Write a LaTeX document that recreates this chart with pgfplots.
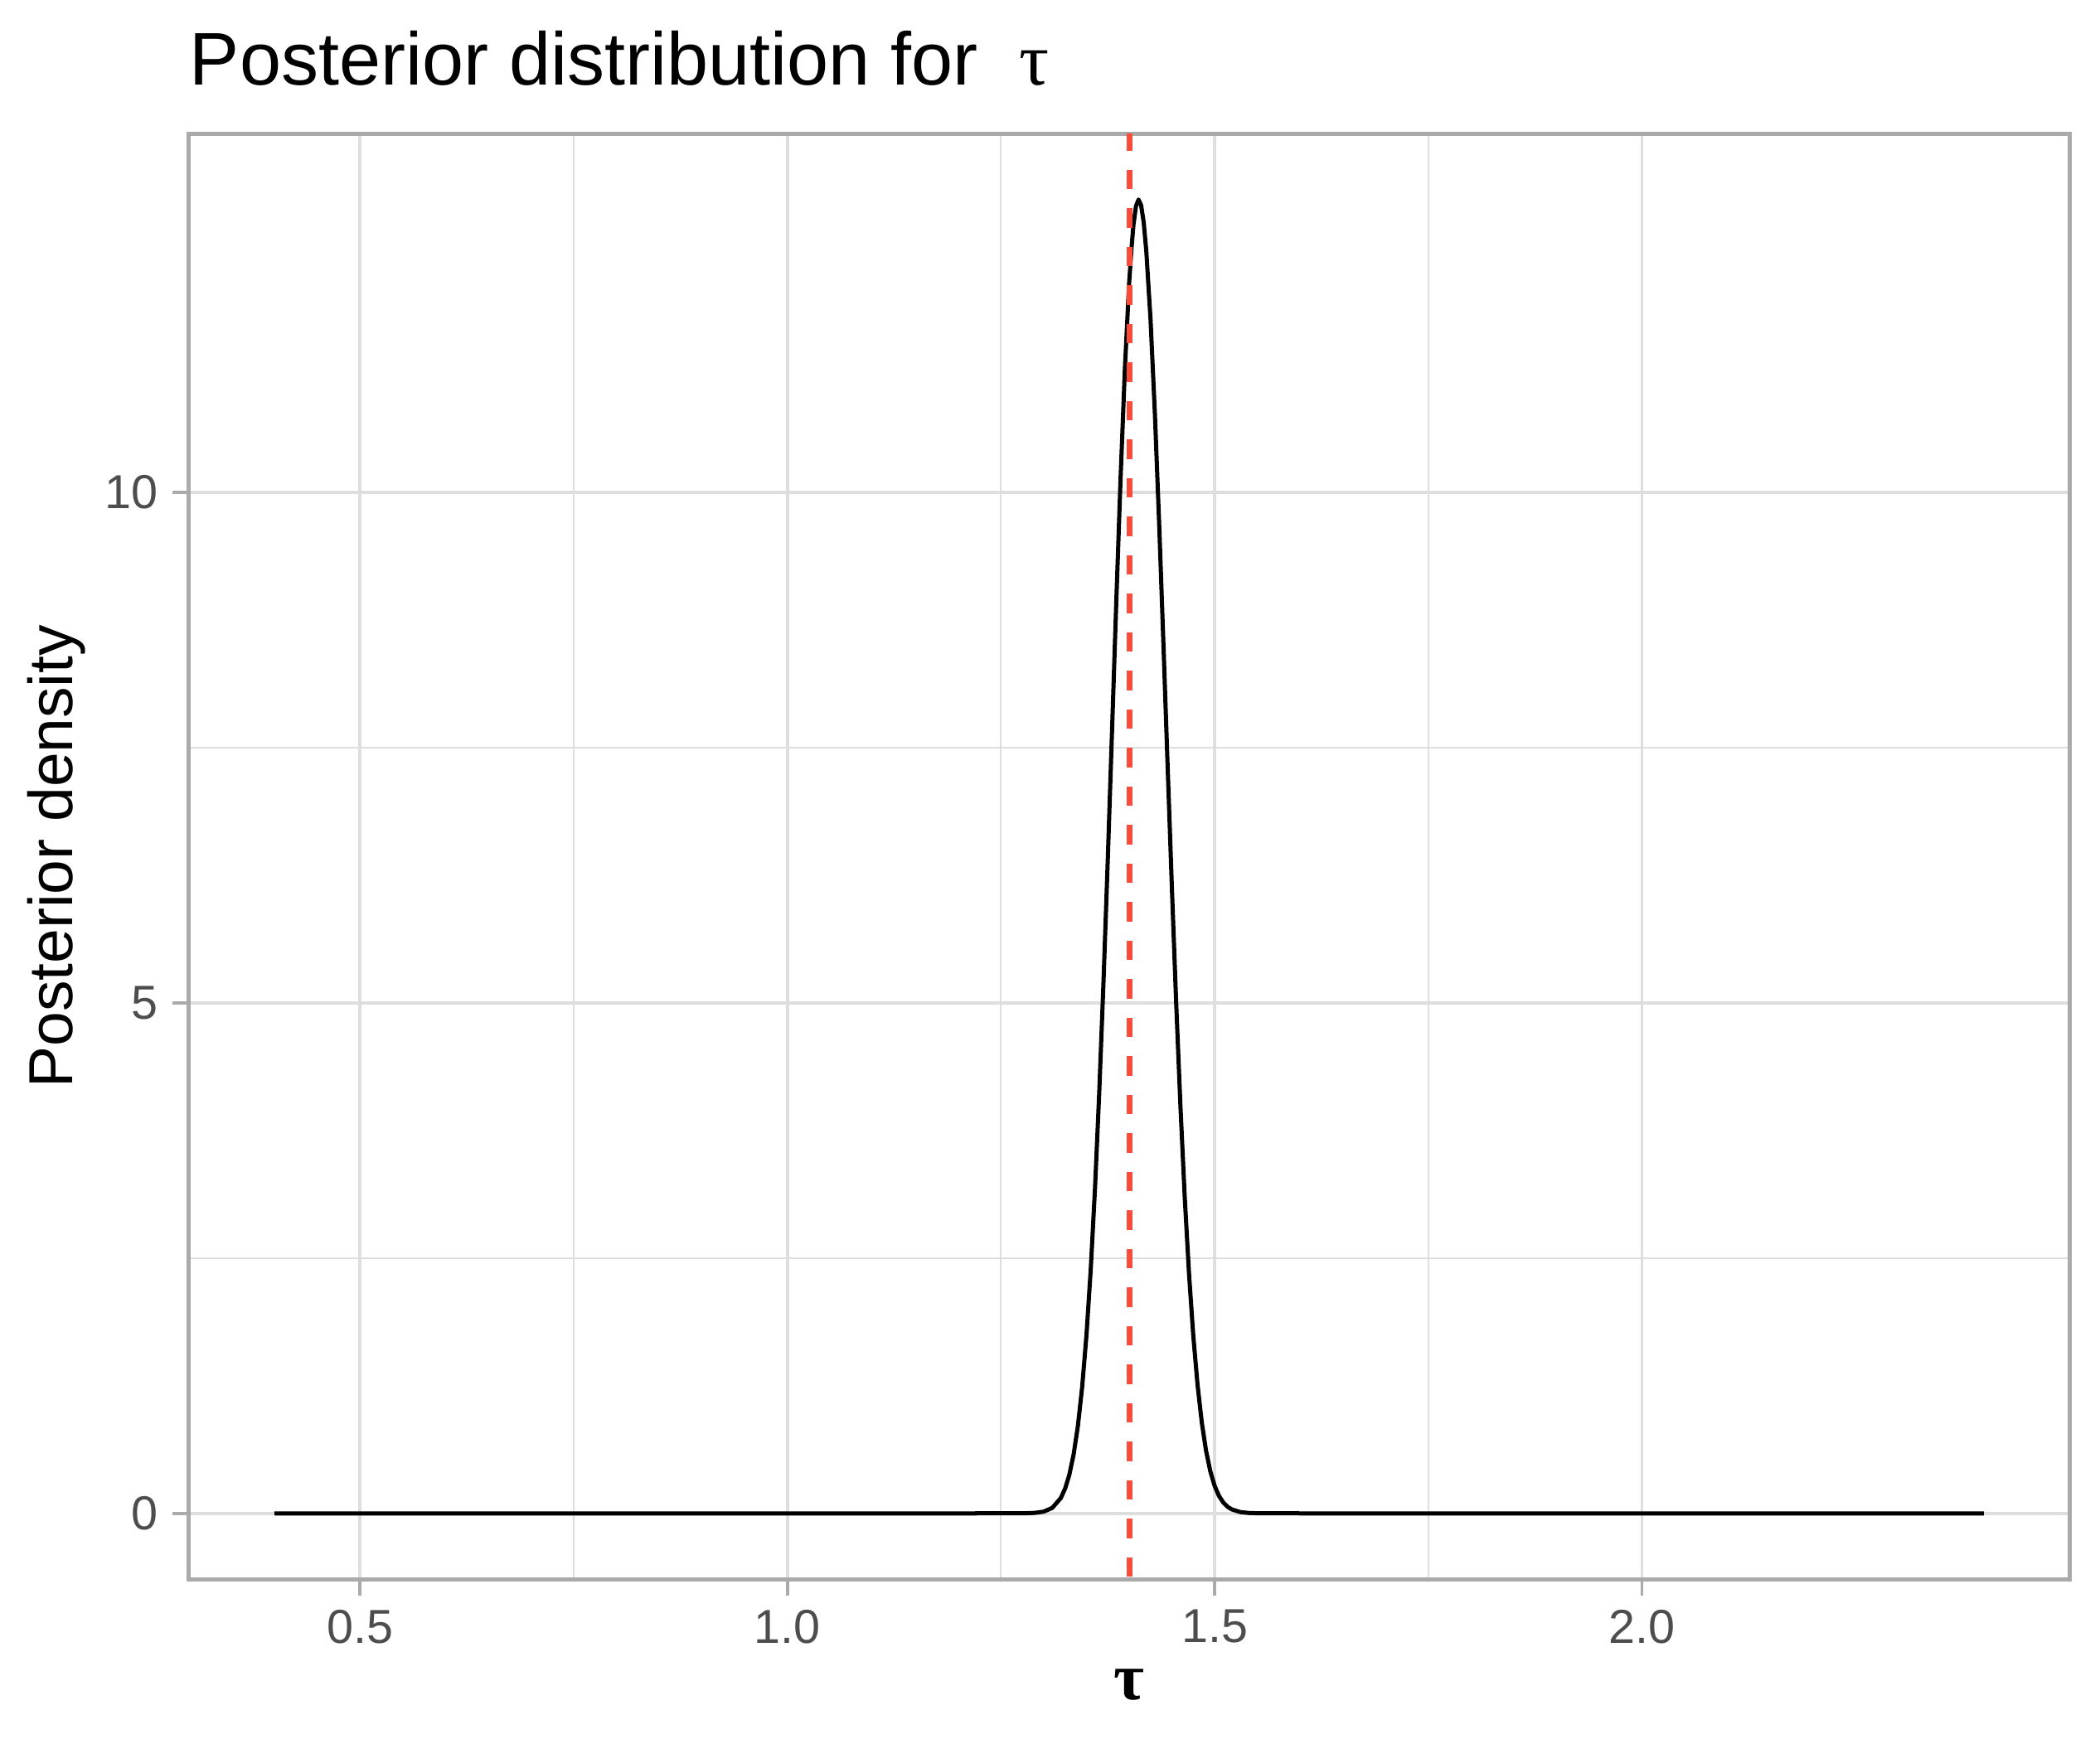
\documentclass[border=0pt]{standalone}
\usepackage{fontspec}
\setmainfont{Liberation Sans}
\newfontfamily\serifgr{Liberation Serif}
\usepackage{pgfplots}
\pgfplotsset{compat=1.18}
\usepackage{pgfplotstable}
\definecolor{gridc}{RGB}{222,222,222}
\definecolor{framec}{RGB}{170,170,170}
\definecolor{tickc}{RGB}{77,77,77}
\definecolor{redl}{RGB}{248,76,60}
\pgfplotstableread{
x y
0.40 0
1.20 0
1.25 0.00001
1.28 0.0013
1.29 0.0049
1.30 0.0171
1.31 0.0535
1.32 0.150
1.325 0.2417
1.33 0.378
1.335 0.5772
1.34 0.856
1.345 1.238
1.35 1.741
1.355 2.385
1.36 3.180
1.365 4.127
1.37 5.215
1.375 6.413
1.38 7.678
1.385 8.949
1.39 10.154
1.395 11.215
1.40 12.059
1.403 12.420
1.405 12.623
1.408 12.808
1.411 12.870
1.414 12.813
1.417 12.646
1.42 12.371
1.425 11.695
1.43 10.790
1.435 9.714
1.44 8.535
1.445 7.319
1.45 6.124
1.455 5.001
1.46 3.985
1.465 3.099
1.47 2.351
1.475 1.741
1.48 1.259
1.485 0.888
1.49 0.611
1.495 0.410
1.50 0.269
1.505 0.172
1.51 0.1075
1.515 0.0655
1.52 0.0389
1.53 0.0128
1.54 0.0038
1.55 0.0010
1.57 0.0001
1.60 0
2.40 0
}\posterior
\begin{document}
\begin{tikzpicture}
\begin{axis}[
  scale only axis,
  width=453.6pt, height=348.7pt,
  xmin=0.3, xmax=2.5, ymin=-0.6435, ymax=13.5135,
  xtick={0.5,1,1.5,2}, ytick={0,5,10},
  minor x tick num=1, minor y tick num=1,
  grid=both,
  major grid style={color=gridc, line width=0.75pt},
  minor grid style={color=gridc, line width=0.4pt},
  axis line style={color=framec, line width=1pt},
  tick align=outside,
  major tick length=3.9pt, minor tick length=0pt,
  tick style={color=framec, line width=0.75pt},
  xtick pos=bottom, ytick pos=left,
  /pgf/number format/assume math mode=true,
  xticklabel style={font=\fontsize{11.5}{13}\selectfont, color=tickc,
     /pgf/number format/.cd, fixed, fixed zerofill, precision=1},
  yticklabel style={font=\fontsize{11.5}{13}\selectfont, color=tickc},
  xlabel={\serifgr\bfseries τ},
  xlabel style={font=\fontsize{16}{18}\selectfont, at={(axis description cs:0.5,-0.0731)}, anchor=center},
  ylabel={Posterior density},
  ylabel style={font=\fontsize{15}{17}\selectfont, at={(axis description cs:-0.0705,0.5)}, anchor=center},
]
\addplot[black, line width=1pt, line join=round] table[x=x, y=y] {\posterior};
\addplot[redl, line width=1.4pt, dash pattern=on 4.7pt off 4.6pt] coordinates {(1.4,-1) (1.4,14)};
\end{axis}
\node[anchor=base west, inner sep=0pt, font=\fontsize{18}{21}\selectfont] at ([yshift=11.8pt]current axis.north west) {Posterior distribution for\ \ {\serifgr τ}};
\path ([xshift=-45.6pt,yshift=-39.8pt]current axis.south west) rectangle ([xshift=7.4pt,yshift=32.3pt]current axis.north east);
\end{tikzpicture}
\end{document}
